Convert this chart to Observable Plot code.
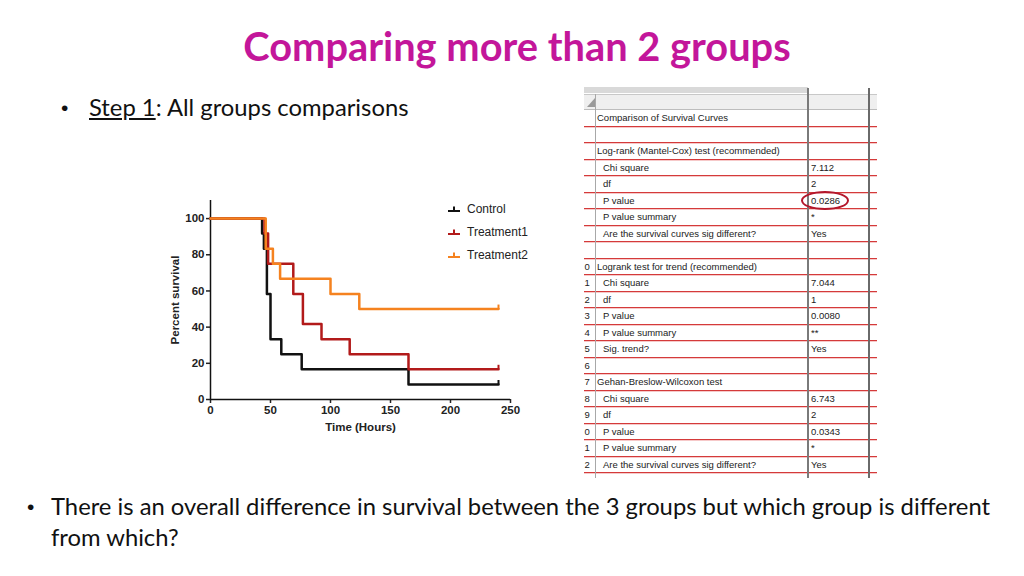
<!DOCTYPE html>
<html>
<head>
<meta charset="utf-8">
<script src="https://cdn.jsdelivr.net/npm/d3@7"></script>
<script src="https://cdn.jsdelivr.net/npm/@observablehq/plot@0.6"></script>
<style>
  html, body { margin: 0; padding: 0; background: #fff; }
  #slide { position: relative; width: 1024px; height: 576px; overflow: hidden; background: #fff; font-family: Lato, "Open Sans", sans-serif; color: #111; }
  .abs { position: absolute; white-space: nowrap; }
  #title { left: 0; width: 1034px; top: 22px; text-align: center; font-weight: 700; font-size: 39.8px; line-height: 48px; color: #c3169a; }
  .bullet { font-size: 23.8px; line-height: 31px; }
  .dot { font-family: "Liberation Sans", Arial, sans-serif; font-size: 21px; line-height: 31px; }
  #chart { position: absolute; left: 150px; top: 190px; }
  .leg { position: absolute; font-family: "Liberation Sans", Arial, sans-serif; font-size: 12px; color: #222; display: flex; align-items: center; }
  .leg svg { margin-right: 6px; }
  #table { position: absolute; left: 584px; top: 84px; width: 293px; height: 394px; overflow: hidden; font-family: "Liberation Sans", Arial, sans-serif; font-size: 9.5px; color: #222; }
  .row { position: absolute; left: 0; width: 293px; height: 16.5px; border-bottom: 1px solid #d43a3a; box-sizing: border-box; box-shadow: 0 1px 0 #f6c9c9; }
  .cell { position: absolute; top: 0; line-height: 16px; white-space: nowrap; }
</style>
</head>
<body>
<div id="slide">
  <div id="title" class="abs">Comparing more than 2 groups</div>
  <div class="abs dot" style="left:61px; top:92px;">•</div>
  <div class="abs bullet" style="left:89px; top:92px;"><span style="text-decoration: underline;">Step 1</span>: All groups comparisons</div>
  <div class="abs dot" style="left:27px; top:491px;">•</div>
  <div class="abs bullet" style="left:51px; top:491px;">There is an overall difference in survival between the 3 groups but which group is different</div>
  <div class="abs bullet" style="left:51px; top:522px;">from which?</div>
  <div id="chart"></div>
  <div id="legend"></div>
  <div id="table"></div>
  <div class="abs" style="left:801px; top:191px; width:44px; height:15px; border:2.5px solid #b3172b; border-radius:50%;"></div>
</div>
<script>
// ---------- chart data ----------
const groups = ["Control", "Treatment1", "Treatment2"];
const groupColors = ["#111111", "#b21a1a", "#f5821f"];
const controlTime = [0, 43, 44.5, 47, 50, 59, 76, 165, 240];
const controlSurv = [100, 91.7, 83.3, 58.3, 33.3, 25, 16.7, 8.3, 8.3];
const treat1Time = [0, 45, 48, 69, 77, 92.5, 116, 165, 240];
const treat1Surv = [100, 91.7, 75, 58.3, 41.7, 33.3, 25, 16.7, 16.7];
const treat2Time = [0, 46, 52, 58, 100, 124, 240];
const treat2Surv = [100, 83.3, 75, 66.7, 58.3, 50, 50];
const xTicks = [0, 50, 100, 150, 200, 250];
const yTicks = [0, 20, 40, 60, 80, 100];

// ---------- table data ----------
const tableLabels = [
  "Comparison of Survival Curves", "",
  "Log-rank (Mantel-Cox) test (recommended)", "Chi square", "df", "P value", "P value summary", "Are the survival curves sig different?", "",
  "Logrank test for trend (recommended)", "Chi square", "df", "P value", "P value summary", "Sig. trend?", "",
  "Gehan-Breslow-Wilcoxon test", "Chi square", "df", "P value", "P value summary", "Are the survival curves sig different?", ""
];
const tableValues = [
  "", "",
  "", "7.112", "2", "0.0286", "*", "Yes", "",
  "", "7.044", "1", "0.0080", "**", "Yes", "",
  "", "6.743", "2", "0.0343", "*", "Yes", ""
];
const tableHeadings = ["Comparison of Survival Curves", "Log-rank (Mantel-Cox) test (recommended)", "Logrank test for trend (recommended)", "Gehan-Breslow-Wilcoxon test"];

// ---------- build chart ----------
const timesArr = [controlTime, treat1Time, treat2Time];
const survArr = [controlSurv, treat1Surv, treat2Surv];
const curves = groups.flatMap((g, i) => timesArr[i].map((t, j) => ({group: g, time: t, surv: survArr[i][j]})));
const censored = groups.map((g, i) => ({group: g, time: timesArr[i][timesArr[i].length - 1], surv: survArr[i][survArr[i].length - 1]}));
const tickSymbol = { draw(ctx) { ctx.moveTo(0, 0); ctx.lineTo(0, -4.5); } };

const plot = Plot.plot({
  width: 380, height: 260,
  marginLeft: 60, marginRight: 20, marginTop: 10, marginBottom: 51,
  style: { fontFamily: "'Liberation Sans', Arial, sans-serif", fontSize: "11px", fontWeight: "bold", color: "#222", background: "transparent", overflow: "visible" },
  x: { domain: [0, 250] },
  y: { domain: [0, 110] },
  color: { domain: groups, range: groupColors },
  marks: [
    Plot.axisX({ ticks: xTicks, tickSize: 4, tickPadding: 2, label: "Time (Hours)", labelAnchor: "center", labelOffset: 31, labelArrow: "none", fontSize: 11.5, strokeWidth: 1.5 }),
    Plot.axisY({ ticks: yTicks, tickSize: 4, tickPadding: 2, label: "Percent survival", labelAnchor: "center", labelOffset: 40, labelArrow: "none", fontSize: 11.5, strokeWidth: 1.5 }),
    Plot.ruleY([0], { stroke: "#111", strokeWidth: 1.5 }),
    Plot.ruleX([0], { stroke: "#111", strokeWidth: 1.5 }),
    Plot.line(curves, { x: "time", y: "surv", z: "group", stroke: "group", curve: "step-after", strokeWidth: 2.5 }),
    Plot.dot(censored, { x: "time", y: "surv", stroke: "group", symbol: tickSymbol, strokeWidth: 2 })
  ]
});
document.getElementById("chart").appendChild(plot);

// ---------- legend ----------
const legend = document.getElementById("legend");
groups.forEach((g, i) => {
  const item = document.createElement("div");
  item.className = "leg";
  item.style.left = "447px";
  item.style.top = (202 + i * 23) + "px";
  item.innerHTML = `<svg width="14" height="10"><line x1="1" y1="7" x2="13" y2="7" stroke="${groupColors[i]}" stroke-width="2"/><line x1="7" y1="7" x2="7" y2="2.5" stroke="${groupColors[i]}" stroke-width="2"/></svg><span>${g}</span>`;
  legend.appendChild(item);
});

// ---------- table ----------
const table = document.getElementById("table");
const rowH = 16.5, rowTop = 26;
table.insertAdjacentHTML("beforeend", `<div style="position:absolute;left:0;top:3px;width:224px;height:6px;background:#d9d9d9;"></div>`);
table.insertAdjacentHTML("beforeend", `<div style="position:absolute;left:0;top:10px;width:293px;height:16px;background:#efefef;border-top:1px solid #c8c8c8;border-bottom:1px solid #bdbdbd;box-sizing:border-box;"></div>`);
table.insertAdjacentHTML("beforeend", `<div style="position:absolute;left:3px;top:14px;width:0;height:0;border-left:8px solid transparent;border-bottom:9px solid #9a9a9a;"></div>`);
tableLabels.forEach((lab, k) => {
  const r = document.createElement("div");
  r.className = "row";
  r.style.top = (rowTop + k * rowH) + "px";
  const heading = tableHeadings.includes(lab);
  const num = (k + 1 >= 10 && k < tableLabels.length - 1) ? String(k + 1).slice(-1) : "";
  r.innerHTML = (num ? `<div class="cell" style="left:0.5px;">${num}</div>` : "") +
    (lab ? `<div class="cell" style="left:${heading ? 13 : 19}px;">${lab}</div>` : "") +
    (tableValues[k] ? `<div class="cell" style="left:227px;">${tableValues[k]}</div>` : "");
  table.appendChild(r);
});
table.insertAdjacentHTML("beforeend", `<div style="position:absolute;left:11px;top:10px;width:1px;height:384px;background:#a8a8a8;"></div>`);
table.insertAdjacentHTML("beforeend", `<div style="position:absolute;left:223px;top:4px;width:2px;height:390px;background:#7a7a7a;"></div>`);
table.insertAdjacentHTML("beforeend", `<div style="position:absolute;left:284px;top:4px;width:2px;height:390px;background:#6a6a6a;"></div>`);
</script>
</body>
</html>
